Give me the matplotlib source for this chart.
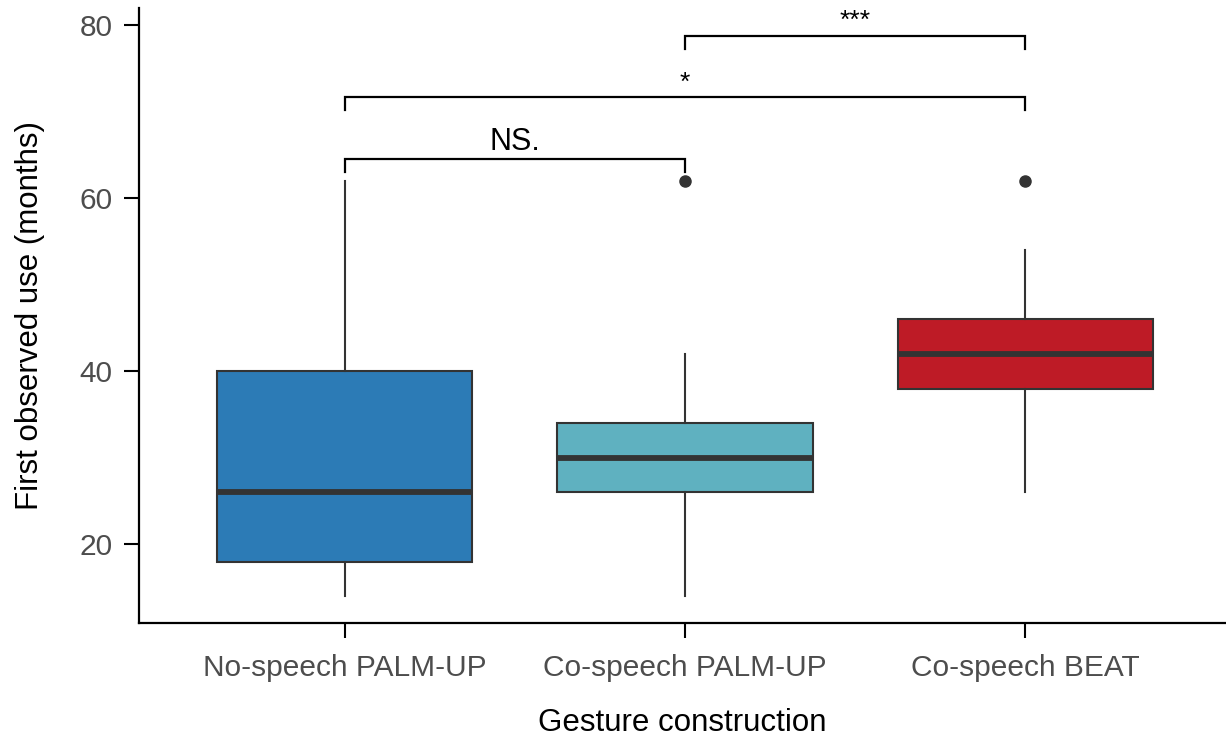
import matplotlib.pyplot as plt

plt.rcParams['font.family'] = ['Liberation Sans', 'DejaVu Sans']

groups = ["No-speech PALM-UP", "Co-speech PALM-UP", "Co-speech BEAT"]
whisker_low = [14, 14, 26]
q1 = [18, 26, 38]
median = [26, 30, 42]
q3 = [40, 34, 46]
whisker_high = [62, 42, 54]
outliers = [[], [62], [62]]
colors = ["#2C7BB6", "#5FB1C0", "#BE1B26"]

# significance brackets: (left group, right group, height, label)
comparisons = [
    (0, 1, 64.5, "NS."),
    (0, 2, 71.7, "*"),
    (1, 2, 78.8, "***"),
]

stats = []
for i, g in enumerate(groups):
    stats.append({
        "label": g,
        "whislo": whisker_low[i],
        "q1": q1[i],
        "med": median[i],
        "q3": q3[i],
        "whishi": whisker_high[i],
        "fliers": outliers[i],
    })

fig = plt.figure(figsize=(12.26, 7.42), dpi=100)
ax = fig.add_axes([0.1134, 0.1604, 0.8866, 0.829])

edge = "#333333"
bp = ax.bxp(stats, positions=range(len(groups)), widths=0.75, patch_artist=True,
            showcaps=False,
            boxprops=dict(edgecolor=edge, linewidth=1.5),
            medianprops=dict(color=edge, linewidth=4.2),
            whiskerprops=dict(color=edge, linewidth=1.5),
            flierprops=dict(marker="o", markerfacecolor=edge, markeredgecolor=edge,
                            markersize=8))
for patch, c in zip(bp["boxes"], colors):
    patch.set_facecolor(c)

for a, b, h, lab in comparisons:
    ax.plot([a, a, b, b], [h - 1.5, h, h, h - 1.5], color="black", lw=1.6,
            solid_joinstyle="miter")
    size = 22 if lab == "NS." else 19
    ax.text((a + b) / 2, h + 0.3, lab, ha="center", va="bottom", fontsize=size)

ax.set_xlim(-0.605, 2.59)
ax.set_ylim(10.9, 82)
ax.set_yticks([20, 40, 60, 80])
ax.set_xticks(range(len(groups)))
ax.set_xticklabels(groups)

for s in ["top", "right"]:
    ax.spines[s].set_visible(False)
for s in ["left", "bottom"]:
    ax.spines[s].set_linewidth(1.6)
ax.tick_params(axis="both", length=11, width=1.5, labelsize=21.5,
               labelcolor="#4D4D4D")
ax.tick_params(axis="x", pad=11)
ax.tick_params(axis="y", pad=8)

ax.set_xlabel("Gesture construction", fontsize=22.5, labelpad=19)
ax.set_ylabel("First observed use (months)", fontsize=22.5, labelpad=25)

fig.savefig("out.png", dpi=100)
